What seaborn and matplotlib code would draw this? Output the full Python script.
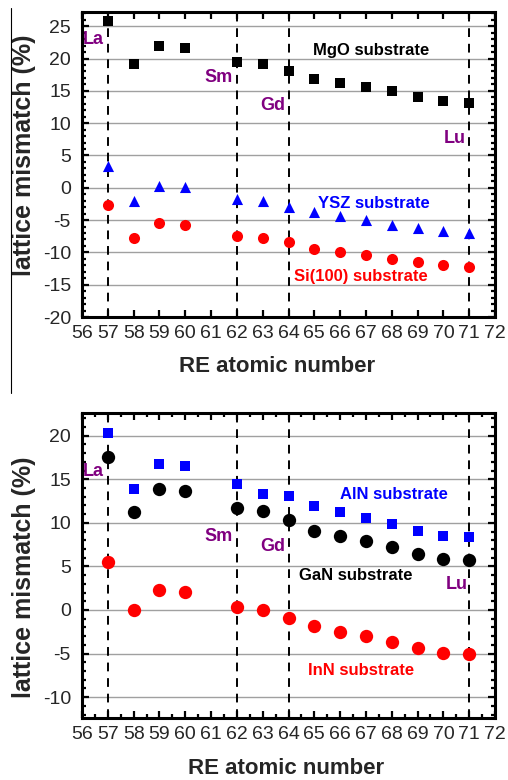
import numpy as np
import pandas as pd
import matplotlib
matplotlib.use("Agg")
import matplotlib.pyplot as plt
from matplotlib.ticker import MultipleLocator
from matplotlib.lines import Line2D
import seaborn as sns

# ---------------- data ----------------
z_all = [57, 58, 59, 60, 62, 63, 64, 65, 66, 67, 68, 69, 70, 71]

mgo = [25.8, 19.2, 21.9, 21.6, 19.5, 19.2, 18.0, 16.9, 16.2, 15.6, 14.9, 14.0, 13.4, 13.1]
ysz = [3.3, -2.1, 0.3, 0.1, -1.8, -2.0, -2.9, -3.8, -4.4, -5.0, -5.7, -6.3, -6.7, -7.0]
si100 = [-2.6, -7.7, -5.5, -5.7, -7.4, -7.7, -8.4, -9.4, -9.9, -10.4, -11.0, -11.5, -12.0, -12.2]

aln = [20.3, 13.9, 16.7, 16.5, 14.4, 13.3, 13.1, 11.9, 11.2, 10.6, 9.9, 9.1, 8.5, 8.4]
gan = [17.5, 11.2, 13.9, 13.7, 11.7, 11.3, 10.3, 9.1, 8.5, 7.9, 7.2, 6.4, 5.8, 5.7]
inn = [5.5, 0.0, 2.3, 2.1, 0.3, 0.0, -0.9, -1.9, -2.5, -3.0, -3.7, -4.4, -4.9, -5.1]

ref_lines = [57, 62, 64, 71]
elements = ["La", "Sm", "Gd", "Lu"]
x_ticks = list(range(56, 73))

xlabel = "RE atomic number"
ylabel = "lattice mismatch (%)"

# ---------------- style ----------------
sns.set_style("ticks")
plt.rcParams["font.family"] = ["Liberation Sans", "DejaVu Sans"]
plt.rcParams["axes.unicode_minus"] = False

W, H = 508, 780
fig = plt.figure(figsize=(W / 100, H / 100), dpi=100)

def px_axes(left, top, right, bottom):
    return fig.add_axes([left / W, 1 - bottom / H, (right - left) / W, (bottom - top) / H])

ax1 = px_axes(82, 12, 495, 317)
ax2 = px_axes(82, 413, 495, 718)

purple = "#800080"
blue = "#0000ff"
red = "#ff0000"


def style_axes(ax, ylim, yticks, x_minor):
    ax.set_xlim(56, 72)
    ax.set_ylim(*ylim)
    ax.set_xticks(x_ticks)
    ax.set_xticklabels([str(v) for v in x_ticks])
    ax.set_yticks(yticks)
    ax.set_yticklabels([str(v) for v in yticks])
    ax.yaxis.set_minor_locator(MultipleLocator(1))
    if x_minor:
        ax.xaxis.set_minor_locator(MultipleLocator(0.5))
    ax.tick_params(which="both", direction="in", top=True, right=True,
                   labeltop=False, labelright=False, width=1.6, color="black")
    ax.tick_params(which="major", length=5, labelsize=14, pad=6)
    ax.tick_params(axis="y", which="major", pad=8)
    ax.tick_params(which="minor", length=2.8)
    for sp in ax.spines.values():
        sp.set_linewidth(2.2)
        sp.set_color("black")
    ax.yaxis.grid(True, which="major", color="#a0a0a0", lw=1.0)
    ax.set_axisbelow(True)
    for xv in ref_lines:
        ax.axvline(xv, color="black", lw=1.4, ls=(0, (4.5, 3.5)), zorder=1)


# ---- top panel ----
style_axes(ax1, (-20, 27.2), list(range(25, -21, -5)), False)
df1 = pd.DataFrame({"z": z_all, "MgO": mgo, "YSZ": ysz, "Si": si100})
sns.scatterplot(data=df1, x="z", y="MgO", marker="s", color="black", s=52,
                linewidth=0, ax=ax1, zorder=3)
sns.scatterplot(data=df1, x="z", y="YSZ", marker="^", color=blue, s=64,
                linewidth=0, ax=ax1, zorder=3)
sns.scatterplot(data=df1, x="z", y="Si", marker="o", color=red, s=64,
                linewidth=0, ax=ax1, zorder=3)
ax1.set_xlabel(xlabel, fontsize=16, fontweight="bold")
ax1.set_ylabel(ylabel, fontsize=18, fontweight="bold")
ax1.xaxis.label.set_va("center")
ax1.yaxis.label.set_va("center")
ax1.xaxis.set_label_coords((277.5 - 82) / 413, (317 - 367) / 305)
ax1.yaxis.set_label_coords((24 - 82) / 413, (317 - 155) / 305)

el_pos1 = [(56.45, 23.0), (61.3, 17.0), (63.4, 12.8), (70.45, 7.6)]
for name, (xx, yy) in zip(elements, el_pos1):
    ax1.text(xx, yy, name, color=purple, fontsize=13, fontweight="bold",
             ha="center", va="center")
ax1.text(67.2, 21.2, "MgO substrate", color="black", fontsize=12,
         fontweight="bold", ha="center", va="center")
ax1.text(67.3, -2.5, "YSZ substrate", color=blue, fontsize=12,
         fontweight="bold", ha="center", va="center")
ax1.text(66.8, -13.8, "Si(100) substrate", color=red, fontsize=12,
         fontweight="bold", ha="center", va="center")

# ---- bottom panel ----
style_axes(ax2, (-12.4, 22.6), list(range(20, -11, -5)), True)
df2 = pd.DataFrame({"z": z_all, "AlN": aln, "GaN": gan, "InN": inn})
sns.scatterplot(data=df2, x="z", y="AlN", marker="s", color=blue, s=42,
                linewidth=0, ax=ax2, zorder=3)
sns.scatterplot(data=df2, x="z", y="GaN", marker="o", color="black", s=92,
                linewidth=0, ax=ax2, zorder=3)
sns.scatterplot(data=df2, x="z", y="InN", marker="o", color=red, s=92,
                linewidth=0, ax=ax2, zorder=3)
ax2.set_xlabel(xlabel, fontsize=16, fontweight="bold")
ax2.set_ylabel(ylabel, fontsize=18, fontweight="bold")
ax2.xaxis.label.set_va("center")
ax2.yaxis.label.set_va("center")
ax2.xaxis.set_label_coords((286 - 82) / 413, (718 - 768) / 305)
ax2.yaxis.set_label_coords((24 - 82) / 413, (718 - 577) / 305)

el_pos2 = [(56.45, 15.9), (61.3, 8.4), (63.4, 7.3), (70.5, 2.9)]
for name, (xx, yy) in zip(elements, el_pos2):
    ax2.text(xx, yy, name, color=purple, fontsize=13, fontweight="bold",
             ha="center", va="center")
ax2.text(68.1, 13.3, "AlN substrate", color=blue, fontsize=12,
         fontweight="bold", ha="center", va="center")
ax2.text(66.6, 3.9, "GaN substrate", color="black", fontsize=12,
         fontweight="bold", ha="center", va="center")
ax2.text(66.8, -6.9, "InN substrate", color=red, fontsize=12,
         fontweight="bold", ha="center", va="center")

# thin crop border line on the left of the top panel
fig.add_artist(Line2D([11 / W, 11 / W], [1 - 8 / H, 1 - 393 / H],
                      color="black", lw=0.8))

fig.savefig("out.png", dpi=100)
